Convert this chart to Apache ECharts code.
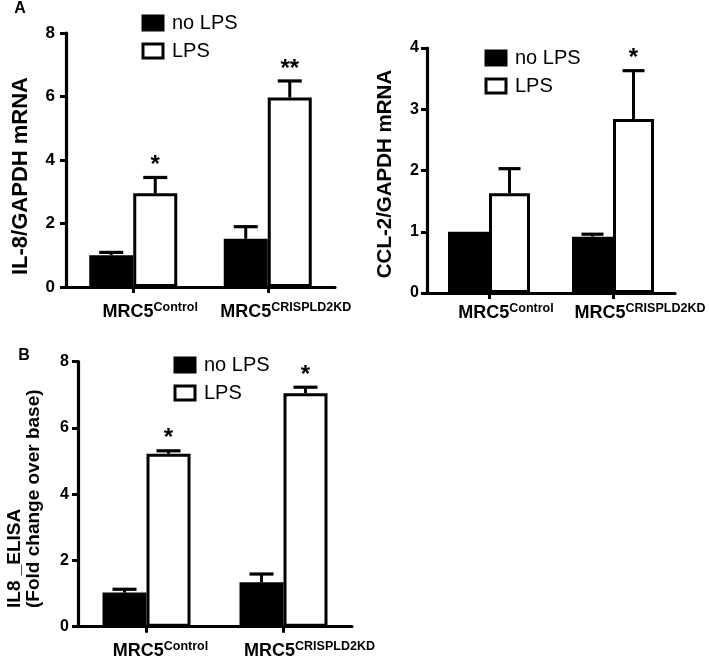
<!DOCTYPE html>
<html><head><meta charset="utf-8">
<script src="https://cdn.jsdelivr.net/npm/echarts@6/dist/echarts.min.js"></script>
<style>html,body{margin:0;padding:0;background:#fff}#c{width:709px;height:666px}</style>
</head><body><div id="c"></div>
<script>
// ---------- data ----------
const categories = ['Control', 'CRISPLD2KD'];
const seriesNames = ['no LPS', 'LPS'];

// Panel A (left): IL-8/GAPDH mRNA
const il8Ticks = [0, 2, 4, 6, 8];
const il8NoLps = [1.0, 1.52];
const il8NoLpsErr = [0.09, 0.38];
const il8Lps = [2.95, 5.97];
const il8LpsErr = [0.5, 0.52];
const il8LpsSig = ['*', '**'];

// Panel A (right): CCL-2/GAPDH mRNA
const ccl2Ticks = [0, 1, 2, 3, 4];
const ccl2NoLps = [1.0, 0.92];
const ccl2NoLpsErr = [0, 0.04];
const ccl2Lps = [1.63, 2.84];
const ccl2LpsErr = [0.4, 0.79];
const ccl2LpsSig = ['', '*'];

// Panel B: IL8 ELISA fold change
const elisaTicks = [0, 2, 4, 6, 8];
const elisaNoLps = [1.03, 1.34];
const elisaNoLpsErr = [0.1, 0.25];
const elisaLps = [5.22, 7.05];
const elisaLpsErr = [0.09, 0.18];
const elisaLpsSig = ['*', '*'];

// ---------- layout ----------
const FONT = '"Liberation Sans", Arial, Helvetica, sans-serif';
const panels = [
  { grid: {left: 66, top: 33, width: 269, height: 254},
    ticks: il8Ticks, noLps: il8NoLps, noLpsErr: il8NoLpsErr, lps: il8Lps, lpsErr: il8LpsErr, sig: il8LpsSig,
    bw: 44, capW: 24, yName: 'IL-8/GAPDH mRNA', nameGap: 34, namePad: [0, 32, 0, 0], nameSize: 22,
    tickSize: 17, yMargin: 11, xMargin: 14, shifts: [17, 18], legend: {left: 141.5, top: 13} },
  { grid: {left: 427, top: 48, width: 248, height: 245},
    ticks: ccl2Ticks, noLps: ccl2NoLps, noLpsErr: ccl2NoLpsErr, lps: ccl2Lps, lpsErr: ccl2LpsErr, sig: ccl2LpsSig,
    bw: 41, capW: 22, yName: 'CCL-2/GAPDH mRNA', nameGap: 31, namePad: [0, 7, 0, 0], nameSize: 20.5,
    tickSize: 16, yMargin: 8, xMargin: 9, shifts: [17, 27], legend: {left: 484.5, top: 48} },
  { grid: {left: 78, top: 361.7, width: 274, height: 265},
    ticks: elisaTicks, noLps: elisaNoLps, noLpsErr: elisaNoLpsErr, lps: elisaLps, lpsErr: elisaLpsErr, sig: elisaLpsSig,
    bw: 44, capW: 24, yName: '', nameGap: 0, namePad: [0, 0, 0, 0], nameSize: 19,
    tickSize: 16, yMargin: 9, xMargin: 13, shifts: [14, 26], legend: {left: 173.5, top: 355} }
];

function errRender(side, bw, capW, sigArr) {
  return function (params, api) {
    const cat = api.value(0), val = api.value(1), err = api.value(2);
    const p0 = api.coord([cat, val]);
    const p1 = api.coord([cat, val + err]);
    const x = p0[0] + (side === 0 ? -bw / 2 : bw / 2);
    const children = [];
    if (err > 0) {
      children.push({type: 'line', shape: {x1: x, y1: p0[1], x2: x, y2: p1[1]}, style: {stroke: '#000', lineWidth: 3}});
      children.push({type: 'line', shape: {x1: x - capW / 2, y1: p1[1], x2: x + capW / 2, y2: p1[1]}, style: {stroke: '#000', lineWidth: 3.2}});
    }
    const s = sigArr ? sigArr[params.dataIndex] : '';
    if (s) {
      children.push({type: 'text', x: x, y: p1[1] - 12,
        style: {text: s, font: 'bold 24px ' + FONT, fill: '#000', align: 'center', verticalAlign: 'middle'}});
    }
    return {type: 'group', children: children};
  };
}

const grids = [], xAxes = [], yAxes = [], series = [], legends = [];
panels.forEach(function (p, i) {
  grids.push(Object.assign({containLabel: false}, p.grid));
  const rich = {
    b: {fontSize: 12.5, fontWeight: 'bold', fontFamily: FONT, color: '#000', padding: [0, 0, 9, 0]}
  };
  p.shifts.forEach(function (s, k) {
    rich['a' + k] = {fontSize: 18, fontWeight: 'bold', fontFamily: FONT, color: '#000', lineHeight: 20, padding: [0, 0, 0, 2 * s]};
  });
  xAxes.push({
    gridIndex: i, type: 'category', data: categories,
    axisLine: {show: true, lineStyle: {color: '#000', width: 3.2}},
    axisTick: {show: true, alignWithLabel: true, length: 6, lineStyle: {color: '#000', width: 3}},
    splitLine: {show: false},
    axisLabel: {margin: p.xMargin, interval: 0, formatter: function (v, idx) { return '{a' + idx + '|MRC5}{b|' + v + '}'; }, rich: rich}
  });
  yAxes.push({
    gridIndex: i, type: 'value',
    min: p.ticks[0], max: p.ticks[p.ticks.length - 1], interval: p.ticks[1] - p.ticks[0],
    axisLine: {show: true, lineStyle: {color: '#000', width: 3.2}},
    axisTick: {show: true, length: 6, lineStyle: {color: '#000', width: 3}},
    splitLine: {show: false},
    axisLabel: {fontSize: p.tickSize, fontWeight: 'bold', fontFamily: FONT, color: '#000', margin: p.yMargin},
    name: p.yName, nameLocation: 'middle', nameRotate: 90, nameGap: p.nameGap,
    nameTextStyle: {fontSize: p.nameSize, fontWeight: 'bold', fontFamily: FONT, color: '#000', padding: p.namePad}
  });
  const vals = [p.noLps, p.lps], errs = [p.noLpsErr, p.lpsErr], colors = ['#000', '#fff'];
  [0, 1].forEach(function (s) {
    series.push({
      type: 'bar', name: seriesNames[s], xAxisIndex: i, yAxisIndex: i,
      data: vals[s], barWidth: p.bw, barGap: '0%',
      itemStyle: {color: colors[s], borderColor: '#000', borderWidth: 3},
      emphasis: {disabled: true}, silent: true, z: 2
    });
  });
  [0, 1].forEach(function (s) {
    series.push({
      type: 'custom', name: 'err' + i + s, xAxisIndex: i, yAxisIndex: i, z: 5, silent: true,
      data: vals[s].map(function (v, k) { return [k, v, errs[s][k]]; }),
      renderItem: errRender(s, p.bw, p.capW, s === 1 ? p.sig : null)
    });
  });
  legends.push({
    data: seriesNames, orient: 'vertical', left: p.legend.left, top: p.legend.top, padding: 0,
    itemWidth: 20, itemHeight: 14, itemGap: 8, icon: 'rect', selectedMode: false,
    itemStyle: {borderWidth: 3, borderColor: '#000'},
    textStyle: {fontSize: 20, fontFamily: FONT, color: '#000', padding: [0, 0, 0, 4]}
  });
});

const chart = echarts.init(document.getElementById('c'), null, {renderer: 'canvas'});
chart.setOption({
  backgroundColor: '#fff',
  animation: false,
  grid: grids, xAxis: xAxes, yAxis: yAxes, series: series, legend: legends,
  graphic: [
    {type: 'text', x: 20, y: 9, style: {text: 'A', font: 'bold 16px ' + FONT, fill: '#000', align: 'center', verticalAlign: 'middle'}},
    {type: 'text', x: 24, y: 356, style: {text: 'B', font: 'bold 16px ' + FONT, fill: '#000', align: 'center', verticalAlign: 'middle'}},
    {type: 'text', x: 24, y: 608, rotation: Math.PI / 2,
      style: {text: 'IL8 _ELISA\n(Fold change over base)', font: 'bold 19px ' + FONT, lineHeight: 19, fill: '#000', align: 'left', verticalAlign: 'middle'}}
  ]
});
</script></body></html>
